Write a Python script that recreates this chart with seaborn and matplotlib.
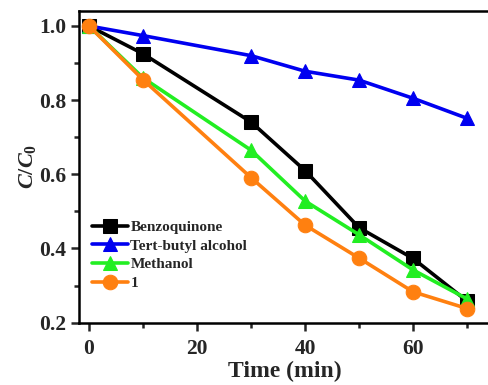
import matplotlib
matplotlib.use("Agg")
import matplotlib.pyplot as plt
import seaborn as sns
from matplotlib.ticker import MultipleLocator

time = [0, 10, 30, 40, 50, 60, 70]
benzoquinone = [1.0, 0.925, 0.741, 0.61, 0.456, 0.373, 0.258]
tert_butyl = [1.0, 0.974, 0.92, 0.878, 0.854, 0.805, 0.751]
methanol = [1.0, 0.86, 0.665, 0.528, 0.437, 0.342, 0.264]
sample1 = [1.0, 0.855, 0.591, 0.463, 0.374, 0.283, 0.238]

labels = ["Benzoquinone", "Tert-butyl alcohol", "Methanol", "1"]
series = [benzoquinone, tert_butyl, methanol, sample1]
colors = ["#000000", "#0000f0", "#22ee22", "#ff8010"]
markers = ["s", "^", "^", "o"]
xticks = [0, 20, 40, 60]
yticks = [0.2, 0.4, 0.6, 0.8, 1.0]

sns.set_theme(style="ticks")
plt.rcParams["font.family"] = ["Liberation Serif", "DejaVu Serif"]
plt.rcParams["font.weight"] = "bold"
plt.rcParams["axes.labelweight"] = "bold"
plt.rcParams["mathtext.fontset"] = "custom"
plt.rcParams["mathtext.it"] = "Liberation Serif:italic:bold"
plt.rcParams["mathtext.rm"] = "Liberation Serif:bold"

fig = plt.figure(figsize=(4.88, 3.85), dpi=100)
ax = fig.add_axes([0.162, 0.162, 0.845, 0.809])

for vals, lab, c, m in zip(series, labels, colors, markers):
    sns.lineplot(x=time, y=vals, ax=ax, color=c, marker=m, markersize=10.5,
                 markeredgecolor=c, linewidth=2.6, label=lab)

ax.set_xlim(-1.85, 74.5)
ax.set_ylim(0.2, 1.04)
tickfont = {"family": "Liberation Serif", "weight": "bold", "size": 15.5}
ax.set_xticks(xticks, labels=[str(v) for v in xticks], fontdict=tickfont)
ax.set_yticks(yticks, labels=[f"{v:.1f}" for v in yticks], fontdict=tickfont)
ax.xaxis.set_minor_locator(MultipleLocator(10))
ax.yaxis.set_minor_locator(MultipleLocator(0.1))
ax.tick_params(which="major", direction="out", length=6, width=1.8)
ax.tick_params(axis="x", which="major", pad=6)
ax.tick_params(axis="y", which="major", pad=3)
ax.tick_params(which="minor", direction="out", length=3.5, width=1.8)
for sp in ax.spines.values():
    sp.set_linewidth(1.8)
    sp.set_color("black")

ax.set_xlabel("Time (min)", fontsize=17, fontweight="bold", labelpad=1)
ax.set_ylabel(r"$\mathit{C/C_0}$", fontsize=16, labelpad=1)

leg = ax.legend(loc="lower left", bbox_to_anchor=(0.008, 0.075), frameon=False,
                prop={"family": "Liberation Serif", "weight": "bold", "size": 11},
                handlelength=2.4, handletextpad=0.15, labelspacing=0.33, borderaxespad=0.2)

fig.savefig("out.png", dpi=100)
